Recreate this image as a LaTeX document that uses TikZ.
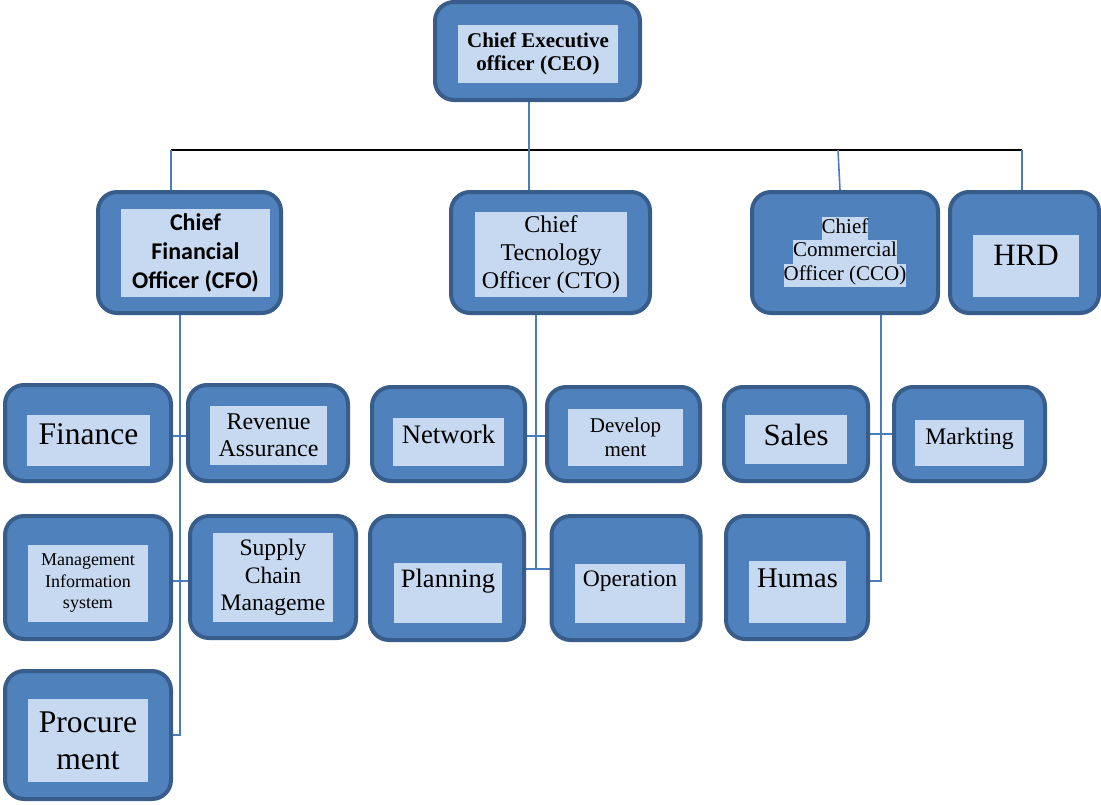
\documentclass[tikz,border=0pt]{standalone}
\usepackage{fontspec}
\setmainfont{Liberation Serif}
\newfontfamily\calibri{Carlito}
\usetikzlibrary{backgrounds}

\definecolor{unitfill}{HTML}{4F81BD}
\definecolor{unitline}{HTML}{385D8A}
\definecolor{panefill}{HTML}{C6D9F1}
\definecolor{linkblue}{HTML}{4A7EBB}

\newcommand\fsz[2]{\fontsize{#1pt}{#2pt}\selectfont}
\newcommand\hl[1]{{\setlength{\fboxsep}{0pt}\colorbox{panefill}{\strut #1}}}

\tikzset{
  unit/.style={draw=unitline, fill=unitfill, line width=4pt, rounded corners=19pt, inner sep=0pt},
  pane/.style={fill=panefill, inner sep=0pt, align=center},
  link/.style={draw=linkblue, line width=1.6pt},
  bus/.style={draw=black, line width=2.2pt}
}

\begin{document}
\begin{tikzpicture}[x=1pt, y=-1pt]
    \useasboundingbox (0,0) rectangle (1101,804);
    %
    \node[unit, minimum width=205pt, minimum height=98pt] (ceo) at (537.5,51) {};
    \node[pane, minimum width=160pt, minimum height=58pt, font=\bfseries\fsz{21}{23}] (ceo-t) at (538,54) {Chief Executive\\officer (CEO)};
    %
    \node[unit, minimum width=183pt, minimum height=121pt] (cfo) at (189.5,252.5) {};
    \node[pane, minimum width=149pt, minimum height=88pt, font=\calibri\bfseries\fsz{24}{29}] (cfo-t) at (195.5,253) {Chief\\Financial\\Officer (CFO)};
    \node[unit, minimum width=199pt, minimum height=121pt] (cto) at (550.5,252.5) {};
    \node[pane, minimum width=152pt, minimum height=85pt, font=\fsz{24}{28}] (cto-t) at (551,254.5) {Chief\\Tecnology\\Officer (CTO)};
    \node[unit, minimum width=186pt, minimum height=121pt] (cco) at (845,252.5) {};
    \node[inner sep=0pt, align=center, font=\fsz{21}{23.5}] (cco-t) at (845,252) {\hl{Chief}\\\hl{Commercial}\\\hl{Officer (CCO)}};
    \node[unit, minimum width=149pt, minimum height=121pt] (hrd) at (1024.5,252.5) {};
    \node[pane, minimum width=106pt, text height=30pt, text depth=32pt, font=\fsz{31}{36}] (hrd-t) at (1026,266) {HRD};
    %
    \node[unit, minimum width=166pt, minimum height=96pt] (fin) at (88,433) {};
    \node[pane, minimum width=123pt, text height=29pt, text depth=22pt, font=\fsz{31.5}{36}] (fin-t) at (88.5,440.5) {Finance};
    \node[unit, minimum width=160pt, minimum height=96pt] (rev) at (268,433) {};
    \node[pane, minimum width=117pt, minimum height=59pt, font=\fsz{24}{27}] (rev-t) at (268.5,435.5) {Revenue\\Assurance};
    \node[unit, minimum width=166pt, minimum height=123pt] (mis) at (88,577.5) {};
    \node[pane, minimum width=120pt, minimum height=77pt, font=\fsz{18}{21.5}] (mis-t) at (88,583.5) {Management\\Information\\system};
    \node[unit, minimum width=166pt, minimum height=122pt] (sup) at (273,577) {};
    \node[pane, minimum width=120pt, minimum height=89pt, font=\fsz{23.6}{27.5}] (sup-t) at (273,577.5) {Supply\\Chain\\Manageme};
    \node[unit, minimum width=166pt, minimum height=128pt] (proc) at (88,735) {};
    \node[pane, minimum width=120pt, minimum height=83pt, font=\fsz{31.6}{37}] (proc-t) at (88,740.5) {Procure\\ment};
    %
    \node[unit, minimum width=153pt, minimum height=94pt] (net) at (448.5,434) {};
    \node[pane, minimum width=111pt, text height=25pt, text depth=23pt, font=\fsz{26.7}{30}] (net-t) at (448.5,442) {Network};
    \node[unit, minimum width=153pt, minimum height=94pt] (dev) at (623.5,434) {};
    \node[pane, minimum width=115pt, minimum height=57pt, font=\fsz{21}{24}] (dev-t) at (625.5,437.5) {Develop\\ment};
    \node[unit, minimum width=154pt, minimum height=124pt] (plan) at (447,578) {};
    \node[pane, minimum width=108pt, text height=24pt, text depth=36pt, font=\fsz{26.5}{30}] (plan-t) at (448,593) {Planning};
    \node[unit, minimum width=149pt, minimum height=124pt] (oper) at (626,578) {};
    \node[pane, minimum width=110pt, text height=22pt, text depth=37pt, font=\fsz{23.6}{27}] (oper-t) at (630,593.5) {Operation};
    %
    \node[unit, minimum width=144pt, minimum height=94pt] (sales) at (796,434) {};
    \node[pane, minimum width=102pt, text height=30pt, text depth=19pt, font=\fsz{30.8}{35}] (sales-t) at (796,439.5) {Sales};
    \node[unit, minimum width=151pt, minimum height=94pt] (mkt) at (969.5,434) {};
    \node[pane, minimum width=109pt, text height=24pt, text depth=22pt, font=\fsz{23.7}{27}] (mkt-t) at (969.5,443) {Markting};
    \node[unit, minimum width=142pt, minimum height=123pt] (humas) at (797,577.5) {};
    \node[pane, minimum width=97pt, text height=26pt, text depth=36pt, font=\fsz{28.5}{32}] (humas-t) at (797.5,592) {Humas};
    %
    \coordinate (bus-w) at (171,150);
    \coordinate (bus-e) at (1022,150);
    \coordinate (ceo-drop) at (529,150);
    \coordinate (cco-top) at (838,150);
    \coordinate (cco-foot) at (840,190);
    \coordinate (cfo-spine) at (180,436);
    \coordinate (cfo-tie) at (180,581);
    \coordinate (cto-spine) at (536,436);
    \coordinate (cto-tie) at (536,569);
    \coordinate (cco-spine) at (881,434);
    \coordinate (cco-tie) at (881,581);
    %
    \begin{scope}[on background layer]
    \draw[bus] (bus-w) -- (bus-e);
    \draw[link] (ceo.south -| ceo-drop) -- (cto.north -| ceo-drop);
    \draw[link] (bus-w) -- (cfo.north -| bus-w);
    \draw[link] (cco-top) -- (cco.north -| cco-foot);
    \draw[link] (bus-e) -- (hrd.north -| bus-e);
    %
    \draw[link] (cfo.south -| cfo-spine) -- (proc.east -| cfo-spine) -- (proc.east);
    \draw[link] (fin.east |- cfo-spine) -- (rev.west |- cfo-spine);
    \draw[link] (mis.east |- cfo-tie) -- (sup.west |- cfo-tie);
    %
    \draw[link] (cto.south -| cto-spine) -- (cto-tie);
    \draw[link] (net.east |- cto-spine) -- (dev.west |- cto-spine);
    \draw[link] (plan.east |- cto-tie) -- (oper.west |- cto-tie);
    %
    \draw[link] (cco.south -| cco-spine) -- (cco-tie) -- (humas.east |- cco-tie);
    \draw[link] (sales.east |- cco-spine) -- (mkt.west |- cco-spine);
    \end{scope}
\end{tikzpicture}
\end{document}
